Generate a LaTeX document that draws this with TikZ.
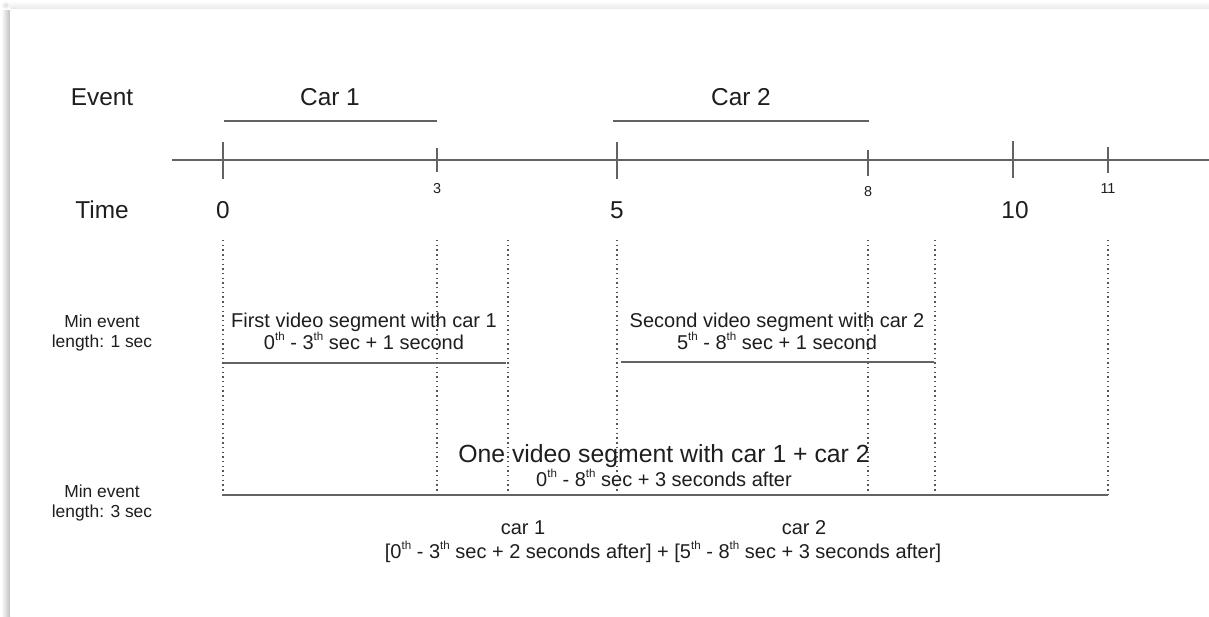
\documentclass[tikz,border=0pt]{standalone}
\usepackage{fontspec}
\setmainfont{Liberation Sans}
\definecolor{txt}{HTML}{1E1E1E}
\definecolor{ln}{HTML}{636363}
\definecolor{dotc}{HTML}{555555}
\newcommand{\fbig}{\fontsize{12.2}{14}\selectfont}
\newcommand{\fhead}{\fontsize{12.4}{14}\selectfont}
\newcommand{\fseg}{\fontsize{10}{11}\selectfont}
\newcommand{\fmin}{\fontsize{8.7}{10}\selectfont}
\newcommand{\ftiny}{\fontsize{7.2}{8}\selectfont}
\newcommand{\thsup}{\raisebox{0.42em}{\scalebox{0.58}{th}}}
\tikzset{
  lbl/.style={inner sep=0pt, anchor=base, text=txt},
  bar/.style={draw=ln, line width=1pt},
  tickmark/.style={draw=ln, line width=1pt},
  guide/.style={draw=dotc, line width=0.7pt, dash pattern=on 0.7pt off 1.65pt},
}
\begin{document}
\begin{tikzpicture}[x=0.5pt,y=-0.5pt]
\useasboundingbox (0,0) rectangle (1209,616);
% page with soft shadow
\fill[white] (0,0) rectangle (1209,616);
\shade[left color=white, right color=black!25] (1,9) rectangle (10,616);
\shade[top color=white, bottom color=black!9] (10,1) rectangle (1209,9);
\shade[inner color=black!14, outer color=white] (1,1) rectangle (10,9);
\fill[white] (10,9) rectangle (1209,616);

% timeline
\coordinate (tlL) at (172,160);
\coordinate (tlR) at (1209,160);
\draw[bar] (tlL) -- (tlR);

% ticks
\coordinate (t0a) at (223,142);  \coordinate (t0b) at (223,179);
\coordinate (t3a) at (437,148);  \coordinate (t3b) at (437,172);
\coordinate (t5a) at (617,142);  \coordinate (t5b) at (617,179);
\coordinate (t8a) at (868,150);  \coordinate (t8b) at (868,176);
\coordinate (t10a) at (1013,141); \coordinate (t10b) at (1013,178);
\coordinate (t11a) at (1108,147); \coordinate (t11b) at (1108,173);
\draw[tickmark] (t0a) -- (t0b);
\draw[tickmark] (t3a) -- (t3b);
\draw[tickmark] (t5a) -- (t5b);
\draw[tickmark] (t8a) -- (t8b);
\draw[tickmark] (t10a) -- (t10b);
\draw[tickmark] (t11a) -- (t11b);

% event bars
\coordinate (c1a) at (224,121); \coordinate (c1b) at (437,121);
\coordinate (c2a) at (613,121); \coordinate (c2b) at (869,121);
\draw[bar] (c1a) -- (c1b);
\draw[bar] (c2a) -- (c2b);

% labels top
\node[lbl, font=\fbig] (event) at (102,105) {Event};
\node[lbl, font=\fbig] (car1) at (330,105) {Car 1};
\node[lbl, font=\fbig] (car2) at (741,105) {Car 2};
\node[lbl, font=\fbig] (time) at (102,218) {Time};
\node[lbl, font=\fbig] (n0) at (223,218) {0};
\node[lbl, font=\fbig] (n5) at (617,218) {5};
\node[lbl, font=\fbig] (n10) at (1015,218) {10};
\node[lbl, font=\ftiny] (n3) at (437,193) {3};
\node[lbl, font=\ftiny] (n8) at (868,196) {8};
\node[lbl, font=\ftiny] (n11) at (1108,193) {11};

% dotted guides
\foreach \gx/\gn in {223/g0,437/g3,508/g4,617/g5,868/g8,935/g9,1108/g11}{
  \coordinate (\gn a) at (\gx,240);
  \coordinate (\gn b) at (\gx,495);
  \draw[guide] (\gn a) -- (\gn b);
}

% segment bars
\coordinate (s1a) at (224,363); \coordinate (s1b) at (506,363);
\coordinate (s2a) at (621,362); \coordinate (s2b) at (934,362);
\coordinate (s3a) at (222,495); \coordinate (s3b) at (1108,495);
\draw[bar] (s1a) -- (s1b);
\draw[bar] (s2a) -- (s2b);
\draw[bar, line width=1.2pt] (s3a) -- (s3b);

% min event labels
\node[lbl, font=\fmin] (min1a) at (102,327) {Min event};
\node[lbl, font=\fmin] (min1b) at (102,347) {length: 1 sec};
\node[lbl, font=\fmin] (min3a) at (102,497) {Min event};
\node[lbl, font=\fmin] (min3b) at (102,517) {length: 3 sec};

% first / second segment texts
\node[lbl, font=\fseg] (seg1a) at (364,327) {First video segment with car 1};
\node[lbl, font=\fseg] (seg1b) at (364,349) {0\thsup{} - 3\thsup{} sec + 1 second};
\node[lbl, font=\fseg] (seg2a) at (777,327) {Second video segment with car 2};
\node[lbl, font=\fseg] (seg2b) at (777,349) {5\thsup{} - 8\thsup{} sec + 1 second};

% combined segment
\node[lbl, font=\fhead] (oneA) at (664,462) {One video segment with car 1 + car 2};
\node[lbl, font=\fseg] (oneB) at (664,486) {0\thsup{} - 8\thsup{} sec + 3 seconds after};

% bottom explanation
\node[lbl, font=\fseg] (bc1) at (523,534) {car 1};
\node[lbl, font=\fseg] (bc2) at (804,534) {car 2};
\node[lbl, font=\fseg] (brk) at (663,558) {[0\thsup{} - 3\thsup{} sec + 2 seconds after] + [5\thsup{} - 8\thsup{} sec + 3 seconds after]};
\end{tikzpicture}
\end{document}
